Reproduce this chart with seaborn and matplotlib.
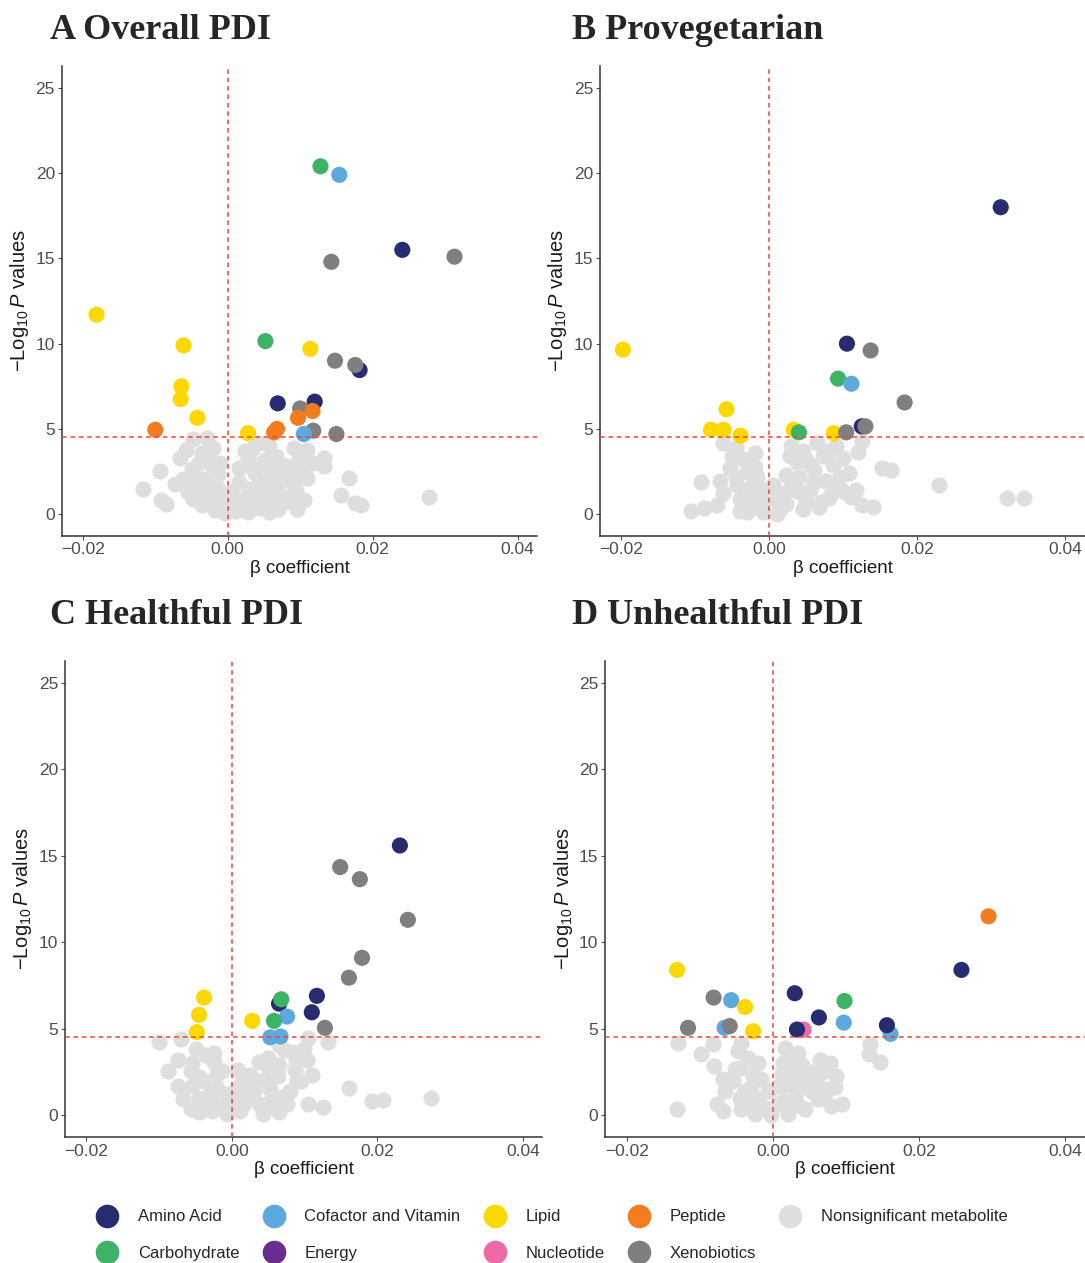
import matplotlib
matplotlib.use("Agg")
import matplotlib.pyplot as plt
import pandas as pd
import seaborn as sns
from matplotlib.lines import Line2D

# metabolite classes and colours
classes = ["Amino Acid", "Carbohydrate", "Cofactor and Vitamin", "Energy", "Lipid",
           "Nucleotide", "Peptide", "Xenobiotics", "Nonsignificant metabolite"]
class_colors = ["#262C6F", "#3DB465", "#5DA9DD", "#6A2C8E", "#FCD800",
                "#EE6AA7", "#F47C20", "#7F7F7F", "#DEDEDE"]

panel_titles = ["A Overall PDI", "B Provegetarian", "C Healthful PDI", "D Unhealthful PDI"]
x_ticks = [-0.02, 0.00, 0.02, 0.04]
x_tick_labels = ["\u22120.02", "0.00", "0.02", "0.04"]
y_ticks = [0, 5, 10, 15, 20, 25]
p_threshold = 4.5

# ---- A Overall PDI
a_sig_beta = [0.0128, 0.0154, 0.0241, 0.0143, 0.0313, -0.0181, -0.0061, 0.0052, 0.0114, 0.0148,
              0.0182, 0.0176, -0.0064, -0.0065, 0.0069, 0.0120, 0.0100, 0.0117, 0.0097, -0.0042,
              -0.0100, 0.0068, 0.0064, 0.0118, 0.0105, 0.0150, 0.0028]
a_sig_logp = [20.4, 19.9, 15.5, 14.8, 15.1, 11.7, 9.9, 10.15, 9.7, 9.0,
              8.45, 8.75, 7.5, 6.75, 6.5, 6.6, 6.2, 6.05, 5.65, 5.65,
              4.95, 5.0, 4.8, 4.9, 4.7, 4.7, 4.75]
a_sig_class = ["Carbohydrate", "Cofactor and Vitamin", "Amino Acid", "Xenobiotics", "Xenobiotics",
               "Lipid", "Lipid", "Carbohydrate", "Lipid", "Xenobiotics",
               "Amino Acid", "Xenobiotics", "Lipid", "Lipid", "Amino Acid",
               "Amino Acid", "Xenobiotics", "Peptide", "Peptide", "Lipid",
               "Peptide", "Peptide", "Peptide", "Xenobiotics", "Cofactor and Vitamin",
               "Xenobiotics", "Lipid"]
a_ns_beta = [-0.0117, -0.0093, -0.0092, -0.0085, -0.0073, -0.0066, -0.0048, -0.0029, -0.0057, -0.0036,
             -0.0027, -0.0050, -0.0062, -0.0013, -0.0041, -0.0022, -0.0036, -0.0018, -0.0004, -0.0048,
             -0.0029, -0.0008, 0.0010, 0.0020, 0.0024, 0.0043, 0.0057, 0.0024, 0.0052, 0.0066,
             0.0080, 0.0091, 0.0110, 0.0133, 0.0133, 0.0110, 0.0094, 0.0105, 0.0075, 0.0043,
             0.0057, 0.0033, 0.0057, 0.0080, 0.0168, 0.0156, 0.0175, 0.0184, 0.0278, 0.0015,
             0.0029, 0.0006, -0.0022, -0.0034, -0.0055, -0.0032, 0.0066, 0.0089, 0.0038, 0.0061,
             0.0098, -0.0008, 0.0020, 0.0043,
             -0.0045, -0.0038, -0.0025, -0.0012, -0.0015, -0.0005, 0.0005, 0.0012, 0.0028, 0.0035,
             0.0048, 0.0050, 0.0060, 0.0072, 0.0085, 0.0070, 0.0030, 0.0045, 0.0088, 0.0100,
             0.0118, -0.0040, -0.0050, -0.0020, -0.0010, 0.0015, 0.0035, 0.0095]
a_ns_logp = [1.49, 2.53, 0.82, 0.57, 1.77, 3.30, 4.38, 4.44, 3.77, 3.58,
             3.39, 2.63, 2.06, 2.34, 1.49, 1.10, 0.53, 0.25, 0.06, 0.91,
             1.68, 1.10, 0.34, 0.91, 3.68, 4.15, 4.06, 2.91, 3.20, 3.39,
             2.82, 3.87, 3.77, 3.30, 2.82, 2.15, 1.39, 0.82, 2.06, 1.87,
             0.91, 0.53, 0.15, 0.72, 2.15, 1.10, 0.63, 0.53, 1.01, 1.87,
             1.49, 0.72, 2.82, 2.06, 1.30, 0.91, 1.68, 1.87, 2.44, 2.63,
             3.20, 0.34, 0.34, 0.34,
             2.2, 1.2, 0.6, 0.9, 1.6, 0.4, 1.3, 0.2, 0.1, 1.1,
             0.6, 1.4, 2.2, 1.2, 1.0, 0.3, 3.3, 2.8, 2.4, 2.6,
             3.0, 3.0, 1.8, 3.9, 3.0, 2.7, 3.9, 0.3]

# ---- B Provegetarian
b_sig_beta = [0.0313, -0.0198, 0.0105, 0.0137, 0.0093, 0.0111, 0.0183, -0.0058, -0.0079, -0.0062,
              -0.0039, 0.0033, 0.0040, 0.0087, 0.0104, 0.0125, 0.0130]
b_sig_logp = [18.0, 9.65, 10.0, 9.6, 7.95, 7.65, 6.55, 6.15, 4.95, 4.95,
              4.6, 4.95, 4.8, 4.75, 4.8, 5.15, 5.15]
b_sig_class = ["Amino Acid", "Lipid", "Amino Acid", "Xenobiotics", "Carbohydrate",
               "Cofactor and Vitamin", "Xenobiotics", "Lipid", "Lipid", "Lipid",
               "Lipid", "Lipid", "Carbohydrate", "Lipid", "Xenobiotics",
               "Amino Acid", "Xenobiotics"]
b_ns_beta = [-0.0106, -0.0089, -0.0093, -0.0067, -0.0071, -0.0062, -0.0051, -0.0053, -0.0035, -0.0019,
             -0.0017, -0.0030, -0.0044, -0.0062, -0.0030, -0.0013, -0.0022, -0.0008, -0.0039, 0.0010,
             0.0014, 0.0023, 0.0030, 0.0046, 0.0064, 0.0037, 0.0055, 0.0073, 0.0090, 0.0086,
             0.0108, 0.0120, 0.0126, 0.0117, 0.0077, 0.0090, 0.0055, 0.0037, 0.0023, 0.0046,
             0.0067, 0.0081, 0.0100, 0.0126, 0.0140, 0.0153, 0.0164, 0.0229, 0.0321, 0.0345,
             -0.0004, -0.0022, 0.0005, 0.0019,
             -0.0045, -0.0040, -0.0025, -0.0010, -0.0030, 0.0005, 0.0015, 0.0030, 0.0040, 0.0050,
             0.0060, 0.0070, 0.0085, 0.0095, 0.0110, 0.0028, 0.0050, -0.0020, -0.0045, 0.0080,
             0.0100, 0.0060]
b_ns_logp = [0.17, 0.36, 1.86, 1.95, 0.55, 4.19, 3.43, 2.68, 3.24, 2.77,
             2.20, 2.49, 1.73, 1.25, 0.97, 1.54, 0.40, 0.11, 0.21, 0.02,
             0.78, 2.30, 4.0, 3.72, 4.16, 3.06, 2.87, 3.43, 4.0, 2.87,
             2.39, 3.62, 4.29, 1.44, 1.92, 1.73, 1.44, 1.35, 0.59, 0.30,
             0.40, 0.97, 1.35, 0.55, 0.40, 2.71, 2.58, 1.73, 0.97, 0.97,
             0.97, 1.35, 1.73, 1.16,
             2.2, 0.9, 1.6, 0.6, 0.1, 0.9, 0.3, 1.6, 2.2, 0.8,
             1.9, 0.7, 1.3, 2.2, 1.0, 3.4, 3.2, 3.6, 3.9, 3.7,
             3.3, 2.6]

# ---- C Healthful PDI
c_sig_beta = [0.0231, 0.0149, 0.0176, 0.0242, 0.0179, 0.0161, -0.0038, -0.0045, -0.0048, 0.0028,
              0.0117, 0.0110, 0.0065, 0.0068, 0.0076, 0.0058, 0.0053, 0.0067, 0.0128]
c_sig_logp = [15.6, 14.35, 13.65, 11.3, 9.1, 7.95, 6.8, 5.8, 4.8, 5.45,
              6.9, 5.95, 6.45, 6.7, 5.7, 5.45, 4.5, 4.55, 5.05]
c_sig_class = ["Amino Acid", "Xenobiotics", "Xenobiotics", "Xenobiotics", "Xenobiotics",
               "Xenobiotics", "Lipid", "Lipid", "Lipid", "Lipid",
               "Amino Acid", "Amino Acid", "Amino Acid", "Carbohydrate", "Cofactor and Vitamin",
               "Carbohydrate", "Cofactor and Vitamin", "Cofactor and Vitamin", "Xenobiotics"]
c_ns_beta = [-0.0100, -0.0070, -0.0074, -0.0088, -0.0074, -0.0056, -0.0049, -0.0036, -0.0025, -0.0014,
             -0.0067, -0.0054, -0.0038, -0.0020, -0.0056, -0.0045, -0.0027, -0.0007, -0.0034, -0.0016,
             0.0011, 0.0020, 0.0011, 0.0025, 0.0038, 0.0049, 0.0065, 0.0072, 0.0083, 0.0099,
             0.0103, 0.0105, 0.0132, 0.0087, 0.0110, 0.0090, 0.0063, 0.0052, 0.0038, 0.0043,
             0.0056, 0.0070, 0.0076, 0.0105, 0.0126, 0.0161, 0.0193, 0.0208, 0.0274, 0.0002,
             0.0029, -0.0007,
             -0.0045, -0.0030, -0.0020, -0.0010, -0.0045, -0.0025, 0.0005, 0.0015, 0.0030, 0.0045,
             0.0055, 0.0065, 0.0080, 0.0095, 0.0030, 0.0050, 0.0065, 0.0088, 0.0008, -0.0055]
c_ns_logp = [4.23, 4.42, 3.19, 2.53, 1.68, 2.53, 3.85, 3.47, 3.09, 2.53,
             0.92, 1.68, 1.96, 1.58, 0.36, 0.17, 0.26, 0.08, 0.92, 0.64,
             0.26, 1.02, 1.77, 2.34, 3.09, 2.91, 4.04, 3.75, 3.66, 3.85,
             3.19, 4.45, 4.23, 2.62, 2.34, 1.96, 2.25, 1.49, 0.64, 0.08,
             0.45, 1.02, 0.64, 0.64, 0.49, 1.55, 0.79, 0.87, 0.98, 0.83,
             1.58, 1.21,
             2.2, 1.2, 2.4, 0.6, 1.0, 3.6, 1.4, 0.6, 1.4, 2.1,
             1.0, 0.2, 1.4, 2.0, 2.0, 3.3, 2.9, 3.0, 2.6, 3.0]

# ---- D Unhealthful PDI
d_sig_beta = [0.0295, 0.0258, -0.0131, -0.0081, -0.0057, -0.0038, -0.0116, -0.0066, -0.0059, -0.0027,
              0.0030, 0.0063, 0.0098, 0.0097, 0.0161, 0.0156, 0.0042, 0.0033]
d_sig_logp = [11.5, 8.4, 8.4, 6.8, 6.65, 6.25, 5.05, 5.05, 5.15, 4.85,
              7.05, 5.65, 6.6, 5.35, 4.7, 5.2, 4.95, 4.95]
d_sig_class = ["Peptide", "Amino Acid", "Lipid", "Xenobiotics", "Cofactor and Vitamin",
               "Lipid", "Xenobiotics", "Cofactor and Vitamin", "Xenobiotics", "Lipid",
               "Amino Acid", "Amino Acid", "Carbohydrate", "Cofactor and Vitamin", "Cofactor and Vitamin",
               "Amino Acid", "Nucleotide", "Amino Acid"]
d_ns_beta = [-0.0131, -0.0130, -0.0098, -0.0082, -0.0080, -0.0068, -0.0077, -0.0068, -0.0048, -0.0043,
             -0.0034, -0.0052, -0.0029, -0.0016, -0.0066, -0.0038, -0.0043, -0.0025, -0.0011, -0.0020,
             -0.0006, 0.0016, 0.0035, 0.0014, 0.0026, 0.0039, 0.0053, 0.0067, 0.0078, 0.0087,
             0.0076, 0.0062, 0.0044, 0.0021, 0.0007, 0.0030, 0.0053, 0.0094, 0.0012, -0.0002,
             0.0133, 0.0131, 0.0147,
             -0.0055, -0.0045, -0.0030, -0.0020, -0.0010, -0.0030, 0.0005, 0.0015, 0.0025, 0.0035,
             0.0045, 0.0060, 0.0070, 0.0080, 0.0085, 0.0022, 0.0040, 0.0065, 0.0012, -0.0045]
d_ns_logp = [0.33, 4.15, 3.56, 4.09, 2.85, 2.08, 0.65, 0.21, 3.71, 4.19,
             3.33, 2.66, 2.37, 2.08, 1.41, 1.41, 0.36, 0.08, 0.36, 0.94,
             1.41, 3.90, 3.61, 3.04, 2.47, 2.18, 2.47, 2.47, 3.04, 2.28,
             1.51, 0.94, 0.36, 0.08, 0.65, 1.13, 1.41, 0.65, 1.70, 0.0,
             4.09, 3.52, 3.08,
             2.0, 1.0, 1.6, 3.0, 0.4, 0.6, 1.6, 0.8, 1.8, 0.6,
             1.6, 1.8, 1.0, 0.5, 1.6, 3.0, 2.9, 3.2, 2.4, 2.7]

panels = [
    (a_ns_beta, a_ns_logp, a_sig_beta, a_sig_logp, a_sig_class),
    (b_ns_beta, b_ns_logp, b_sig_beta, b_sig_logp, b_sig_class),
    (c_ns_beta, c_ns_logp, c_sig_beta, c_sig_logp, c_sig_class),
    (d_ns_beta, d_ns_logp, d_sig_beta, d_sig_logp, d_sig_class),
]

sns.set_style("white")
plt.rcParams["font.family"] = ["Liberation Sans", "DejaVu Sans"]
plt.rcParams["mathtext.fontset"] = "custom"
plt.rcParams["mathtext.rm"] = "Liberation Sans"
plt.rcParams["mathtext.it"] = "Liberation Sans:italic"

palette = dict(zip(classes, class_colors))

fig = plt.figure(figsize=(10.85, 12.63), dpi=100)
axes_pos = [
    [0.057, 0.576, 0.438, 0.372],
    [0.553, 0.576, 0.447, 0.372],
    [0.060, 0.100, 0.440, 0.377],
    [0.558, 0.100, 0.442, 0.377],
]
title_pos = [(0.046, 0.976), (0.527, 0.976), (0.046, 0.513), (0.527, 0.513)]

for i, (ns_b, ns_p, sb, sp, sc) in enumerate(panels):
    ax = fig.add_axes(axes_pos[i])
    ns_df = pd.DataFrame({"beta": ns_b, "logp": ns_p})
    sig_df = pd.DataFrame({"beta": sb, "logp": sp, "cls": sc})
    sns.scatterplot(data=ns_df, x="beta", y="logp", color=palette["Nonsignificant metabolite"],
                    s=135, linewidth=0, ax=ax, legend=False, zorder=2)
    sns.scatterplot(data=sig_df, x="beta", y="logp", hue="cls", palette=palette,
                    s=135, linewidth=0, ax=ax, legend=False, zorder=3)
    ax.axhline(p_threshold, color="#F0453A", ls=(0, (3, 2.5)), lw=1.1, zorder=4)
    ax.axvline(0, color="#F0453A", ls=(0, (3, 2.5)), lw=1.1, zorder=4)
    ax.set_xlim(-0.0229, 0.0427)
    ax.set_ylim(-1.25, 26.3)
    ax.set_xticks(x_ticks)
    ax.set_xticklabels(x_tick_labels)
    ax.set_yticks(y_ticks)
    ax.tick_params(axis="both", labelsize=12.5, colors="#4D4D4D", length=3, width=0.8,
                   direction="out", bottom=True, left=True, pad=2)
    for side in ["top", "right"]:
        ax.spines[side].set_visible(False)
    for side in ["left", "bottom"]:
        ax.spines[side].set_color("#333333")
        ax.spines[side].set_linewidth(1.1)
    ax.set_xlabel("\u03b2 coefficient", fontsize=13.5, color="#1A1A1A", labelpad=2)
    ax.set_ylabel(r"$-\mathrm{Log}_{10}\,\mathit{P}$ values", fontsize=14.5, color="#1A1A1A", labelpad=3)
    ax.grid(False)
    fig.text(title_pos[i][0], title_pos[i][1], panel_titles[i], fontsize=26, fontweight="bold",
             family="Liberation Serif", ha="left", va="center")

handles = [Line2D([], [], marker="o", ls="", markersize=17, markerfacecolor=c,
                  markeredgewidth=0) for c in class_colors]
fig.legend(handles, classes, loc="center", bbox_to_anchor=(0.508, 0.022), ncol=5,
           frameon=False, fontsize=12, handletextpad=1.1, columnspacing=1.3,
           labelspacing=1.3, handlelength=1.5)

fig.savefig("out.png", dpi=100)
